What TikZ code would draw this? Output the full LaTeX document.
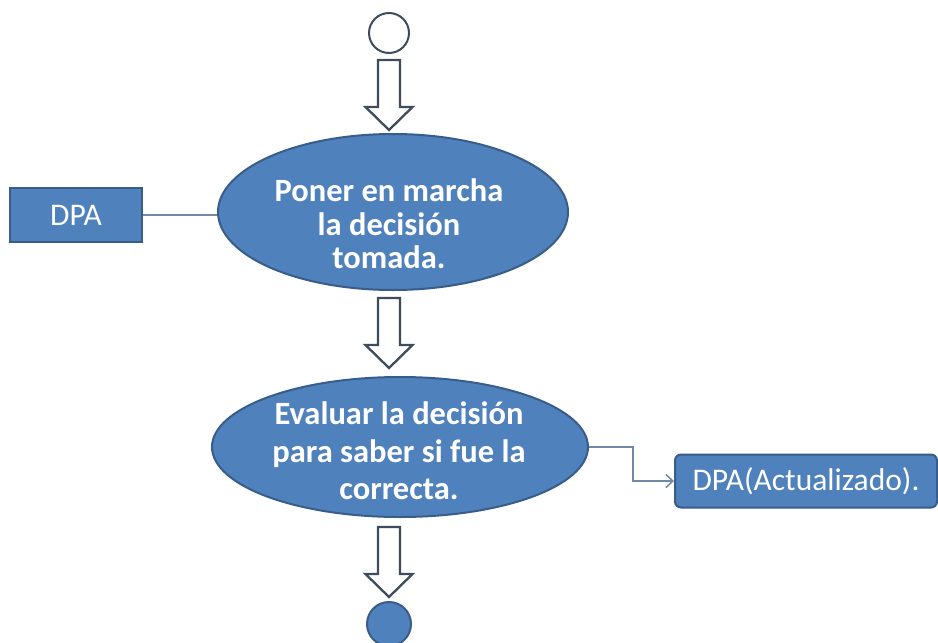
\documentclass[tikz,border=0pt]{standalone}
\usepackage{fontspec}
\setmainfont{Carlito}
\usetikzlibrary{shapes.geometric,arrows.meta}
\definecolor{fillblue}{HTML}{4F81BD}
\definecolor{edgeblue}{HTML}{385D8A}
\definecolor{arrowgray}{HTML}{3E4C5E}
\definecolor{linkgray}{HTML}{7388A4}
\begin{document}
\begin{tikzpicture}[x=1pt,y=-1pt,
  proc/.style={ellipse,draw=edgeblue,fill=fillblue,line width=2pt,inner sep=0pt},
  ptext/.style={text=white,font=\fontsize{32.5}{33.5}\selectfont\bfseries,align=center,inner sep=0pt},
  docbox/.style={rectangle,draw=edgeblue,fill=fillblue,line width=2pt,text=white,font=\fontsize{31.5}{36}\selectfont,inner sep=0pt},
  link/.style={draw=linkgray,line width=1.5pt},
  flowarrow/.pic={\draw[draw=arrowgray,fill=white,line width=2.3pt,line join=miter] (-11,0) -- (11,0) -- (11,47) -- (23.5,47) -- (0,70) -- (-23.5,47) -- (-11,47) -- cycle;}
]
\useasboundingbox[fill=white] (0,0) rectangle (938,643);
\node[circle,draw=arrowgray,fill=white,line width=2pt,minimum size=40pt,inner sep=0pt] (start) at (389,33) {};
\node[proc,minimum width=350pt,minimum height=156pt] (e1) at (393,212) {};
\node[ptext] (e1t) at (389,224) {Poner en marcha\\la decisión\\tomada.};
\node[proc,minimum width=376pt,minimum height=140pt] (e2) at (400,447) {};
\node[ptext,font=\fontsize{32.5}{37.5}\selectfont\bfseries] (e2t) at (399,451) {Evaluar la decisión\\para saber si fue la\\correcta.};
\node[docbox,minimum width=132pt,minimum height=54pt] (dpa) at (76,215) {DPA};
\node[docbox,rounded corners=6pt,minimum width=262pt,minimum height=53pt] (dpa2) at (806,481) {DPA(Actualizado).};
\node[circle,draw=edgeblue,fill=fillblue,line width=2pt,minimum size=44pt,inner sep=0pt] (end) at (389,624) {};
\pic at (389,60) {flowarrow};
\pic at (389,298) {flowarrow};
\pic at (389,527) {flowarrow};
\draw[link] (dpa.east) -- (dpa.east -| e1.west);
\draw[link,-{Straight Barb[length=7pt,width=13pt]}] (e2.east) -- ++(44,0) |- (dpa2.west);
\end{tikzpicture}
\end{document}
